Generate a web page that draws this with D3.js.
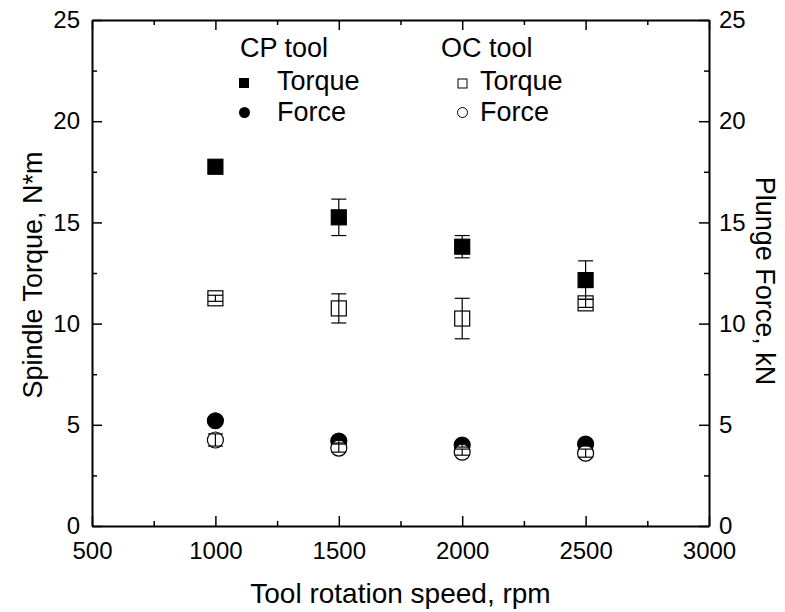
<!DOCTYPE html>
<meta charset="utf-8">
<style>
body { margin: 0; background: #fff; }
svg text { font-family: "Liberation Sans", Arial, sans-serif; fill: #000; }
.axis path { stroke: #000; stroke-width: 2px; }
.axis line { stroke: #000; stroke-width: 1.5px; }
.axis text { font-size: 24px; font-family: "Liberation Sans", Arial, sans-serif; }
</style>
<body>
<svg width="785" height="612"></svg>
<script src="https://cdn.jsdelivr.net/npm/d3@7"></script>
<script>

// rotation speeds, rpm
var speeds = [1000, 1500, 2000, 2500];

// spindle torque, N*m
var cpTorque = [17.75, 15.25, 13.8, 12.15];
var cpTorqueErr = [0.1, 0.9, 0.55, 0.95];
var ocTorque = [11.25, 10.75, 10.25, 11.0];
var ocTorqueErr = [0.15, 0.72, 1.0, 0.2];

// plunge force, kN
var cpForce = [5.2, 4.2, 4.0, 4.05];
var cpForceErr = [0.1, 0.1, 0.1, 0.1];
var ocForce = [4.25, 3.85, 3.65, 3.6];
var ocForceErr = [0.3, 0.2, 0.15, 0.2];

var xTicks = [500, 1000, 1500, 2000, 2500, 3000];
var yTicks = [0, 5, 10, 15, 20, 25];

var svg = d3.select("svg");

var margin = {left: 92, right: 76, top: 20, bottom: 86};
var width = +svg.attr("width"),
    height = +svg.attr("height");

var x = d3.scaleLinear().domain([500, 3000]).range([margin.left, width - margin.right]);
var yL = d3.scaleLinear().domain([0, 25]).range([height - margin.bottom, margin.top]);
var yR = d3.scaleLinear().domain([0, 25]).range([height - margin.bottom, margin.top]);

var x0 = x.range()[0], x1 = x.range()[1], y0 = yL.range()[0], y1 = yL.range()[1];

// minor ticks halfway between majors
var xMinor = xTicks.slice(0, -1).map(function(d) { return d + 250; });
var yMinor = yTicks.slice(0, -1).map(function(d) { return d + 2.5; });

var fmt = d3.format("d");

// bottom
svg.append("g").attr("class", "axis")
    .attr("transform", "translate(0," + y0 + ")")
    .call(d3.axisBottom(x).tickValues(xTicks).tickFormat(fmt).tickSizeInner(-10).tickSizeOuter(0).tickPadding(16));
svg.append("g").attr("class", "axis")
    .attr("transform", "translate(0," + y0 + ")")
    .call(d3.axisBottom(x).tickValues(xMinor).tickSize(-5).tickFormat(""))
    .select(".domain").remove();

// top
svg.append("g").attr("class", "axis")
    .attr("transform", "translate(0," + y1 + ")")
    .call(d3.axisTop(x).tickValues(xTicks).tickSizeInner(-10).tickSizeOuter(0).tickFormat(""));
svg.append("g").attr("class", "axis")
    .attr("transform", "translate(0," + y1 + ")")
    .call(d3.axisTop(x).tickValues(xMinor).tickSize(-5).tickFormat(""))
    .select(".domain").remove();

// left
svg.append("g").attr("class", "axis")
    .attr("transform", "translate(" + x0 + ",0)")
    .call(d3.axisLeft(yL).tickValues(yTicks).tickFormat(fmt).tickSizeInner(-10).tickSizeOuter(0).tickPadding(12));
svg.append("g").attr("class", "axis")
    .attr("transform", "translate(" + x0 + ",0)")
    .call(d3.axisLeft(yL).tickValues(yMinor).tickSize(-5).tickFormat(""))
    .select(".domain").remove();

// right
svg.append("g").attr("class", "axis")
    .attr("transform", "translate(" + x1 + ",0)")
    .call(d3.axisRight(yR).tickValues(yTicks).tickFormat(fmt).tickSizeInner(-10).tickSizeOuter(0).tickPadding(10));
svg.append("g").attr("class", "axis")
    .attr("transform", "translate(" + x1 + ",0)")
    .call(d3.axisRight(yR).tickValues(yMinor).tickSize(-5).tickFormat(""))
    .select(".domain").remove();

// axis titles
svg.append("text")
    .attr("x", (x0 + x1) / 2).attr("y", 603)
    .attr("text-anchor", "middle").style("font-size", "28px")
    .text("Tool rotation speed, rpm");
svg.append("text")
    .attr("transform", "translate(42,275) rotate(-90)")
    .attr("text-anchor", "middle").style("font-size", "27px")
    .text("Spindle Torque, N*m");
svg.append("text")
    .attr("transform", "translate(756,281) rotate(90)")
    .attr("text-anchor", "middle").style("font-size", "27px")
    .text("Plunge Force, kN");

var sq = 15, rad = 8;

function squares(vals, y, fill) {
  svg.append("g").selectAll("rect")
    .data(speeds).enter().append("rect")
      .attr("x", function(d) { return x(d) - sq / 2; })
      .attr("y", function(d, i) { return y(vals[i]) - sq / 2; })
      .attr("width", sq).attr("height", sq)
      .attr("fill", fill).attr("stroke", "#000").attr("stroke-width", 1.2);
}

function circles(vals, y, fill) {
  svg.append("g").selectAll("circle")
    .data(speeds).enter().append("circle")
      .attr("cx", function(d) { return x(d); })
      .attr("cy", function(d, i) { return y(vals[i]); })
      .attr("r", rad)
      .attr("fill", fill).attr("stroke", "#000").attr("stroke-width", 1.2);
}

function errbars(vals, errs, y) {
  var g = svg.append("g").attr("stroke", "#000").attr("stroke-width", 1.2);
  speeds.forEach(function(s, i) {
    var cx = x(s), hi = y(vals[i] + errs[i]), lo = y(vals[i] - errs[i]);
    g.append("line").attr("x1", cx).attr("x2", cx).attr("y1", hi).attr("y2", lo);
    g.append("line").attr("x1", cx - sq / 2).attr("x2", cx + sq / 2).attr("y1", hi).attr("y2", hi);
    g.append("line").attr("x1", cx - sq / 2).attr("x2", cx + sq / 2).attr("y1", lo).attr("y2", lo);
  });
}

squares(cpTorque, yL, "#000");
squares(ocTorque, yL, "#fff");
circles(cpForce, yR, "#000");
circles(ocForce, yR, "#fff");
errbars(cpTorque, cpTorqueErr, yL);
errbars(ocTorque, ocTorqueErr, yL);
errbars(cpForce, cpForceErr, yR);
errbars(ocForce, ocForceErr, yR);

// legend
var leg = svg.append("g").style("font-size", "27px");
leg.append("text").attr("x", 240).attr("y", 57).text("CP tool");
leg.append("text").attr("x", 441).attr("y", 57).text("OC tool");
leg.append("rect").attr("x", 239).attr("y", 78).attr("width", 10).attr("height", 10).attr("fill", "#000");
leg.append("text").attr("x", 277).attr("y", 90).text("Torque");
leg.append("circle").attr("cx", 244.5).attr("cy", 112.5).attr("r", 5.5).attr("fill", "#000");
leg.append("text").attr("x", 277).attr("y", 121).text("Force");
leg.append("rect").attr("x", 458).attr("y", 79).attr("width", 9).attr("height", 9)
    .attr("fill", "#fff").attr("stroke", "#000").attr("stroke-width", 1);
leg.append("text").attr("x", 480).attr("y", 90).text("Torque");
leg.append("circle").attr("cx", 462.5).attr("cy", 112.5).attr("r", 5)
    .attr("fill", "#fff").attr("stroke", "#000").attr("stroke-width", 1);
leg.append("text").attr("x", 480).attr("y", 121).text("Force");

</script>
</body>
